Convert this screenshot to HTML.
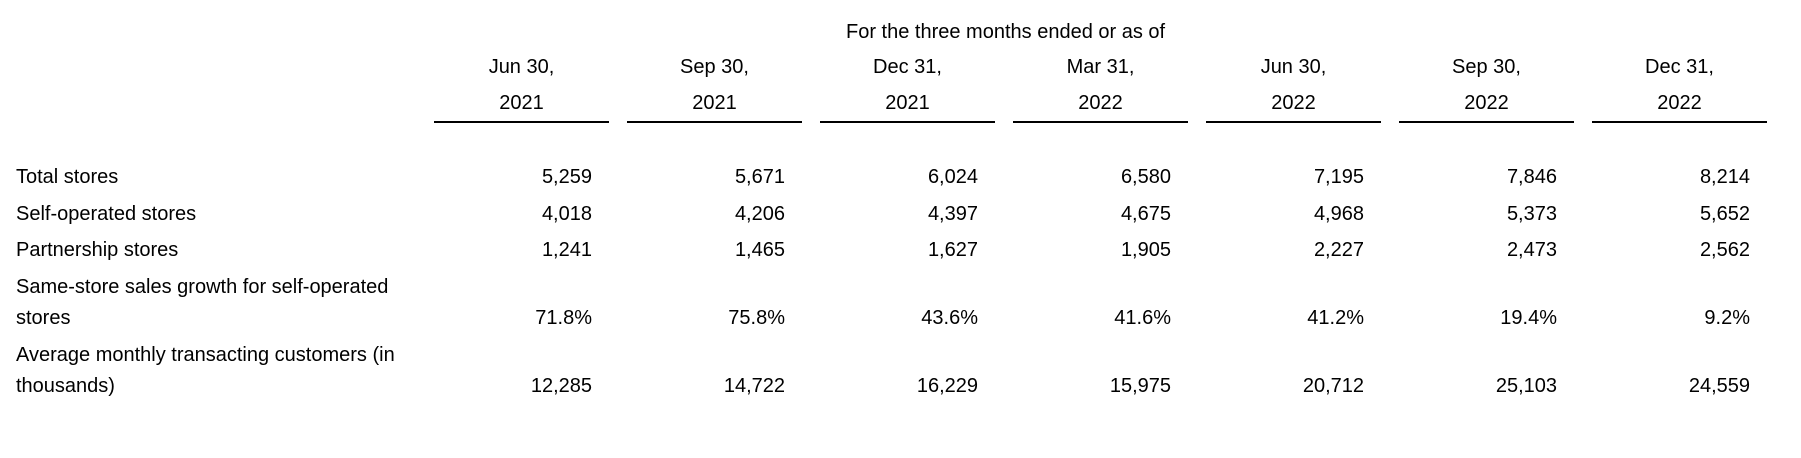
<!DOCTYPE html>
<html><head><meta charset="utf-8"><style>
body{margin:0;width:1801px;height:458px;background:#fff;position:relative;overflow:hidden;font-family:"Liberation Sans",Arial,sans-serif;font-size:20px;color:#000}
.t{position:absolute;white-space:nowrap;line-height:24px}
.c{position:absolute;width:175px;text-align:center;line-height:24px}
.r{position:absolute;width:175px;text-align:right;line-height:24px}
.u{position:absolute;width:175px;height:2px;top:121px;background:#000}
</style></head><body>
<div class="t" style="left:846px;top:20px">For the three months ended or as of</div>
<div id="cols"></div>
<div class="t" style="left:16px;top:165px">Total stores</div>
<div class="t" style="left:16px;top:202px">Self-operated stores</div>
<div class="t" style="left:16px;top:238px">Partnership stores</div>
<div class="t" style="left:16px;top:275px">Same-store sales growth for self-operated</div>
<div class="t" style="left:16px;top:306px">stores</div>
<div class="t" style="left:16px;top:343px">Average monthly transacting customers (in</div>
<div class="t" style="left:16px;top:374px">thousands)</div>

<div class="c" style="left:434px;top:55px">Jun 30,</div><div class="c" style="left:434px;top:91px">2021</div><div class="u" style="left:434px"></div>
<div class="c" style="left:627px;top:55px">Sep 30,</div><div class="c" style="left:627px;top:91px">2021</div><div class="u" style="left:627px"></div>
<div class="c" style="left:820px;top:55px">Dec 31,</div><div class="c" style="left:820px;top:91px">2021</div><div class="u" style="left:820px"></div>
<div class="c" style="left:1013px;top:55px">Mar 31,</div><div class="c" style="left:1013px;top:91px">2022</div><div class="u" style="left:1013px"></div>
<div class="c" style="left:1206px;top:55px">Jun 30,</div><div class="c" style="left:1206px;top:91px">2022</div><div class="u" style="left:1206px"></div>
<div class="c" style="left:1399px;top:55px">Sep 30,</div><div class="c" style="left:1399px;top:91px">2022</div><div class="u" style="left:1399px"></div>
<div class="c" style="left:1592px;top:55px">Dec 31,</div><div class="c" style="left:1592px;top:91px">2022</div><div class="u" style="left:1592px"></div>

<div class="r" style="left:417px;top:165px">5,259</div><div class="r" style="left:610px;top:165px">5,671</div><div class="r" style="left:803px;top:165px">6,024</div><div class="r" style="left:996px;top:165px">6,580</div><div class="r" style="left:1189px;top:165px">7,195</div><div class="r" style="left:1382px;top:165px">7,846</div><div class="r" style="left:1575px;top:165px">8,214</div>
<div class="r" style="left:417px;top:202px">4,018</div><div class="r" style="left:610px;top:202px">4,206</div><div class="r" style="left:803px;top:202px">4,397</div><div class="r" style="left:996px;top:202px">4,675</div><div class="r" style="left:1189px;top:202px">4,968</div><div class="r" style="left:1382px;top:202px">5,373</div><div class="r" style="left:1575px;top:202px">5,652</div>
<div class="r" style="left:417px;top:238px">1,241</div><div class="r" style="left:610px;top:238px">1,465</div><div class="r" style="left:803px;top:238px">1,627</div><div class="r" style="left:996px;top:238px">1,905</div><div class="r" style="left:1189px;top:238px">2,227</div><div class="r" style="left:1382px;top:238px">2,473</div><div class="r" style="left:1575px;top:238px">2,562</div>
<div class="r" style="left:417px;top:306px">71.8%</div><div class="r" style="left:610px;top:306px">75.8%</div><div class="r" style="left:803px;top:306px">43.6%</div><div class="r" style="left:996px;top:306px">41.6%</div><div class="r" style="left:1189px;top:306px">41.2%</div><div class="r" style="left:1382px;top:306px">19.4%</div><div class="r" style="left:1575px;top:306px">9.2%</div>
<div class="r" style="left:417px;top:374px">12,285</div><div class="r" style="left:610px;top:374px">14,722</div><div class="r" style="left:803px;top:374px">16,229</div><div class="r" style="left:996px;top:374px">15,975</div><div class="r" style="left:1189px;top:374px">20,712</div><div class="r" style="left:1382px;top:374px">25,103</div><div class="r" style="left:1575px;top:374px">24,559</div>
</body></html>
